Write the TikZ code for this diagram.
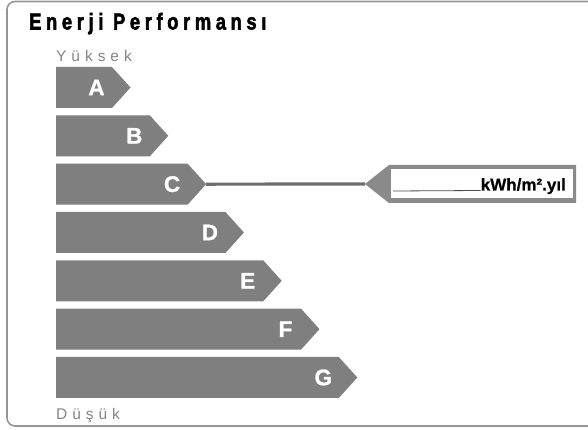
\documentclass[tikz,border=0pt]{standalone}
\usepackage{fontspec}
\setmainfont{Liberation Sans}
\newfontfamily\spacedfont[LetterSpace=32]{Liberation Sans}
\newfontfamily\titlefont[LetterSpace=25,FakeBold=2.4]{Liberation Sans Bold}
\newfontfamily\letterfont[FakeBold=1.2]{Liberation Sans Bold}
\newfontfamily\unitfont[FakeBold=0.6]{Liberation Sans Bold}
\definecolor{bargray}{HTML}{7F7F7F}
\definecolor{framegray}{HTML}{969696}
\definecolor{labgray}{HTML}{858585}
\definecolor{boxgray}{HTML}{8A8A8A}
\definecolor{linegray}{HTML}{6E6E6E}
\tikzset{
  frameline/.style={draw=framegray, line width=1.6pt, rounded corners=8pt},
  barshape/.style={fill=bargray},
  barletter/.style={text=white, font=\letterfont\fontsize{22.5}{23}\selectfont, inner sep=0pt},
  scaletext/.style={text=labgray, font=\spacedfont\fontsize{15.5}{16}\selectfont, inner sep=0pt, anchor=base west},
  conn/.style={draw=linegray, line width=3.2pt},
  valbox/.style={fill=boxgray},
  valinner/.style={fill=white, inner sep=0pt},
  uline/.style={draw=black!70, line width=0.8pt},
}
\begin{document}
\begin{tikzpicture}[x=1pt,y=-1pt]
\useasboundingbox (0,0) rectangle (588,430);
\clip (0,0) rectangle (588,430);
\fill[white] (0,0) rectangle (588,430);
\draw[frameline] (7,1.5) rectangle (620,426);

\node[anchor=base west, inner sep=0pt] (title) at (29,29.5)
  {\scalebox{0.8}[1]{\titlefont\fontsize{23}{24}\selectfont Enerji Performansı}};

\node[scaletext] (high) at (56,62) {Yüksek};
\node[scaletext] (low) at (56,419) {Düşük};

\foreach \L [count=\i from 0] in {A,B,C,D,E,F,G} {
  \pgfmathsetmacro\yt{67+48.33*\i}
  \pgfmathsetmacro\ym{\yt+20.5}
  \pgfmathsetmacro\yb{\yt+41}
  \pgfmathsetmacro\xe{112+37.8*\i}
  \pgfmathsetmacro\xt{\xe+18.5}
  \path[barshape] (56,\yt) -- (\xe,\yt) -- (\xt,\ym) -- (\xe,\yb) -- (56,\yb) -- cycle;
  \coordinate (tip\L) at (\xt,\ym);
  \node[barletter] (let\L) at (\xt-34,\ym) {\L};
}

% value box
\coordinate (ptr) at (365,184);
\path[valbox] (ptr) -- (389,165) -- (576,165) -- (576,203) -- (389,203) -- cycle;
\node[valinner, minimum width=182pt, minimum height=29pt, anchor=north west] (val) at (390.5,169) {};
\node[anchor=base east, inner sep=0pt, font=\unitfont\fontsize{17}{17}\selectfont] (unit) at (566,190.5) {kWh/m².yıl};
\draw[uline] (393,191) -- (unit.base west);

\draw[conn] (tipC) -- (ptr);
\end{tikzpicture}
\end{document}
